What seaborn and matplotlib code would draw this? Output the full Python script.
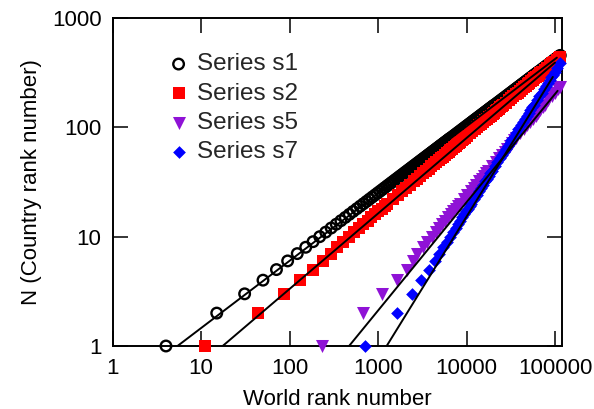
import numpy as np
import pandas as pd
import matplotlib
matplotlib.use("Agg")
import matplotlib.pyplot as plt
import seaborn as sns
from matplotlib.ticker import FixedLocator, FixedFormatter, NullLocator

# ---------------- data ----------------
series_names = ["Series s1", "Series s2", "Series s5", "Series s7"]

# Series s1: country rank N and world rank
s1_n = [1, 2, 3, 4, 5, 6, 7, 8, 9, 10, 11, 12, 13, 14, 15, 16, 17, 18, 19, 20,
        21, 22, 23, 24, 25, 26, 27, 28, 29, 30, 31, 32, 33, 34, 35, 36, 37, 38, 39, 40,
        41, 42, 43, 44, 45, 46, 47, 48, 49, 50, 51, 52, 53, 54, 55, 56, 57, 58, 59, 60,
        61, 62, 63, 64, 65, 66, 67, 68, 69, 70, 71, 72, 73, 74, 75, 76, 77, 78, 79, 80,
        82, 84, 86, 88, 90, 92, 94, 96, 98, 100, 102, 104, 106, 108, 110, 112, 114, 116, 118, 120,
        122, 124, 126, 128, 130, 132, 134, 136, 138, 140, 142, 144, 146, 148, 150, 152, 154, 156, 158, 160,
        164, 168, 172, 176, 180, 184, 188, 192, 196, 200, 204, 208, 212, 216, 220, 224, 228, 232, 236, 240,
        244, 248, 252, 256, 260, 264, 268, 272, 276, 280, 284, 288, 292, 296, 300, 304, 308, 312, 316, 320,
        328, 336, 344, 352, 360, 368, 376, 384, 392, 400, 408, 416, 424, 432, 440, 448, 455]
s1_rank = [4, 15, 31, 50, 71, 95, 122, 152, 184, 219, 256, 295, 337, 380, 426, 473, 522, 574, 627, 682,
           739, 797, 858, 920, 983, 1049, 1116, 1184, 1254, 1326, 1399, 1474, 1550, 1628, 1707, 1788, 1871, 1954, 2039, 2126,
           2214, 2302, 2394, 2485, 2580, 2674, 2771, 2868, 2967, 3066, 3168, 3270, 3374, 3478, 3585, 3691, 3800, 3910, 4022, 4133,
           4248, 4363, 4480, 4596, 4714, 4832, 4954, 5075, 5200, 5324, 5449, 5574, 5703, 5832, 5962, 6091, 6224, 6357, 6492, 6627,
           6902, 7177, 7462, 7747, 8042, 8337, 8639, 8940, 9248, 9556, 9874, 10192, 10517, 10842, 11174, 11505, 11846, 12187, 12535, 12883,
           13241, 13599, 13964, 14328, 14696, 15063, 15441, 15819, 16207, 16594, 16985, 17376, 17777, 18178, 18582, 18986, 19401, 19815, 20236, 20656,
           21513, 22370, 23259, 24147, 25066, 25985, 26925, 27865, 28826, 29786, 30778, 31769, 32781, 33793, 34826, 35859, 36923, 37986, 39071, 40155,
           41271, 42386, 43522, 44658, 45805, 46951, 48129, 49306, 50515, 51723, 52942, 54160, 55410, 56660, 57920, 59180, 60471, 61762, 63074, 64385,
           67057, 69729, 72498, 75266, 78131, 80996, 83926, 86855, 89849, 92843, 95934, 99024, 102179, 105334, 108553, 111772, 114700]

# Series s2
s2_n = [1, 2, 3, 4, 5, 6, 7, 8, 9, 10, 11, 12, 13, 14, 15, 16, 17, 18, 19, 20,
        22, 24, 26, 28, 30, 32, 34, 36, 38, 40,
        42, 44, 46, 48, 50, 52, 54, 56, 58, 60, 62, 64, 66, 68, 70, 72, 74, 76, 78, 80,
        84, 88, 92, 96, 100, 104, 108, 112, 116, 120, 124, 128, 132, 136, 140, 144, 148, 152, 156, 160,
        168, 176, 184, 192, 200, 208, 216, 224, 232, 240, 248, 256, 264, 272, 280, 288, 296, 304, 312, 320,
        336, 352, 368, 384, 400, 416, 432, 440]
s2_rank = [11, 44, 86, 132, 185, 240, 295, 345, 402, 468, 537, 610, 684, 762, 841, 925, 1009, 1096, 1186, 1277,
           1466, 1663, 1868, 2080, 2299, 2525, 2756, 2995, 3240, 3489,
           3744, 4005, 4274, 4543, 4822, 5104, 5391, 5684, 5980, 6280, 6587, 6898, 7212, 7529, 7854, 8182, 8513, 8852, 9187, 9532,
           10228, 10943, 11677, 12411, 13173, 13945, 14727, 15528, 16338, 17158, 17997, 18845, 19703, 20570, 21457, 22353, 23258, 24183, 25098, 26041,
           27942, 29895, 31900, 33905, 35989, 38098, 40233, 42421, 44634, 46874, 49165, 51483, 53827, 56196, 58618, 61066, 63540, 66066, 68566, 71144,
           76337, 81673, 87152, 92629, 98315, 104084, 109995, 112900]

# Series s5
s5_n = [1, 2, 3, 4, 5, 6, 7, 8, 9, 10, 11, 12, 13, 14, 15, 16, 17, 18, 19, 20,
        22, 24, 26, 28, 30, 32, 34, 36, 38, 40,
        44, 48, 52, 56, 60, 64, 68, 72, 76, 80,
        88, 96, 104, 112, 120, 128, 136, 144, 152, 160,
        176, 192, 208, 224, 236]
s5_rank = [230, 670, 1100, 1620, 2100, 2500, 2767, 3187, 3610, 4036, 4467, 4898, 5333, 5768, 6210, 6640, 7080, 7530, 7975, 8420,
           9313, 10213, 11123, 12032, 12942, 13860, 14777, 15703, 16630, 17556,
           19417, 21295, 23191, 25088, 26984, 28897, 30811, 32742, 34673, 36604,
           40484, 44401, 48354, 52307, 56260, 60250, 64240, 68266, 72293, 76319,
           84409, 92575, 100817, 109059, 115240]

# Series s7
s7_n = [1, 2, 3, 4, 5, 6, 7, 8, 9, 10, 11, 12, 13, 14, 15, 16, 17, 18, 19, 20,
        22, 24, 26, 28, 30, 32, 34, 36, 38, 40,
        44, 48, 52, 56, 60, 64, 68, 72, 76, 80,
        88, 96, 104, 112, 120, 128, 136, 144, 152, 160,
        176, 192, 208, 224, 240, 256, 272, 288, 304, 320,
        352, 388]
s7_rank = [720, 1650, 2420, 3080, 3750, 4375, 4940, 5483, 6012, 6531, 7039, 7534, 8020, 8505, 8980, 9440, 9903, 10356, 10810, 11245,
           12122, 12977, 13809, 14641, 15451, 16260, 17047, 17823, 18599, 19364,
           20874, 22346, 23779, 25212, 26606, 28000, 29356, 30692, 32028, 33345,
           35946, 38480, 40948, 43415, 45816, 48217, 50551, 52852, 55153, 57420,
           61899, 66263, 70512, 74761, 78895, 83029, 87049, 91011, 94973, 98877,
           106589, 115000]

# power-law fit lines: world rank where N = 1, exponent, and last world rank of the line
fit_x_start = [5.4, 17.5, 470, 1250]
fit_slope = [0.615, 0.69, 0.99, 1.31]
fit_x_end = [105000, 100000, 107000, 94500]

x_ticks = [1, 10, 100, 1000, 10000, 100000]
x_tick_labels = ["1", "10", "100", "1000", "10000", "100000"]
y_ticks = [1, 10, 100, 1000]
y_tick_labels = ["1", "10", "100", "1000"]

# ---------------- styling ----------------
sns.set_theme(style="ticks")
plt.rcParams['font.family'] = ['Liberation Sans', 'DejaVu Sans']

fig = plt.figure(figsize=(5.94, 4.09), dpi=100)
ax = fig.add_axes([112.7 / 594, 63 / 409, 449.3 / 594, 328 / 409])
ax.set_xscale("log")
ax.set_yscale("log")

all_n = [s1_n, s2_n, s5_n, s7_n]
all_rank = [s1_rank, s2_rank, s5_rank, s7_rank]
styles = [
    dict(marker="o", s=58, facecolors="none", edgecolor="black", linewidth=1.7),
    dict(marker="s", s=66, color="#ff0000", edgecolor="#ff0000", linewidth=0),
    dict(marker="v", s=88, color="#8f12d6", edgecolor="#8f12d6", linewidth=0),
    dict(marker="D", s=42, color="#0000ff", edgecolor="#0000ff", linewidth=0),
]

for name, n, r, st in zip(series_names, all_n, all_rank, styles):
    df = pd.DataFrame({"rank": r, "N": n})
    sns.scatterplot(data=df, x="rank", y="N", ax=ax, label=name,
                    clip_on=False, zorder=3, legend=False, **st)

for x0, b, x1 in zip(fit_x_start, fit_slope, fit_x_end):
    xs = np.array([x0, x1], dtype=float)
    ax.plot(xs, (xs / x0) ** b, color="black", lw=1.4, zorder=4)

ax.set_xlim(1, 120000)
ax.set_ylim(1, 1000)
ax.xaxis.set_major_locator(FixedLocator(x_ticks))
ax.xaxis.set_major_formatter(FixedFormatter(x_tick_labels))
ax.yaxis.set_major_locator(FixedLocator(y_ticks))
ax.yaxis.set_major_formatter(FixedFormatter(y_tick_labels))
ax.xaxis.set_minor_locator(NullLocator())
ax.yaxis.set_minor_locator(NullLocator())
ax.tick_params(axis="both", which="major", direction="in", length=11, width=1.1,
               top=True, right=True, labelsize=16, colors="black")
ax.tick_params(axis="x", pad=9)
ax.tick_params(axis="y", pad=8)
for sp in ax.spines.values():
    sp.set_visible(True)
    sp.set_linewidth(1.4)
    sp.set_color("black")

ax.set_xlabel("World rank number", fontsize=16, labelpad=7, color="black")
ax.set_ylabel("N (Country rank number)", fontsize=16, labelpad=7, color="black")

leg = ax.legend(loc="upper left", bbox_to_anchor=(0.125, 0.892), frameon=False,
                fontsize=17.5, handlelength=0.8, handletextpad=0.35,
                labelspacing=0.3, borderpad=0, borderaxespad=0)

fig.savefig("out.png", dpi=100)
